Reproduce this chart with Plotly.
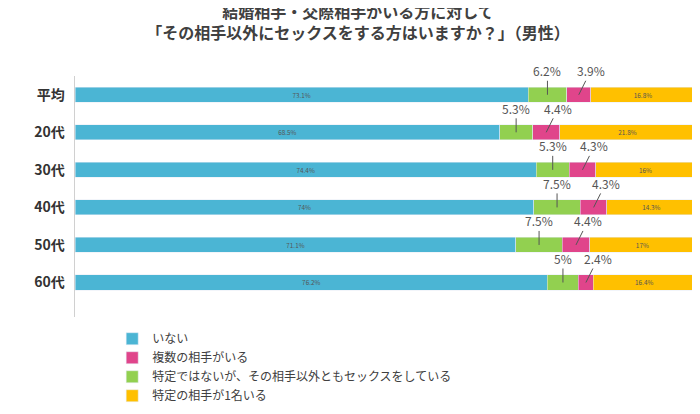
import plotly.graph_objects as go

groups = ['平均', '20代', '30代', '40代', '50代', '60代']
none_ = [73.1, 68.5, 74.4, 74, 71.1, 76.2]
unspec = [6.2, 5.3, 5.3, 7.5, 7.5, 5]
multi = [3.9, 4.4, 4.3, 4.3, 4.4, 2.4]
one = [16.8, 21.8, 16, 14.3, 17, 16.4]

names = ['いない', '特定ではないが、その相手以外ともセックスをしている', '複数の相手がいる', '特定の相手が1名いる']
colors = ['#4BB5D4', '#92D050', '#E0458B', '#FFC000']
ranks = [1, 3, 2, 4]

fig = go.Figure()
for vals, name, col, rk in zip([none_, unspec, multi, one], names, colors, ranks):
    show_text = name in (names[0], names[3])
    fig.add_trace(go.Bar(
        y=groups, x=vals, name=name, orientation='h', marker_color=col,
        legendrank=rk, width=0.4,
        text=[f'{v:g}%' for v in vals] if show_text else None,
        textposition='inside', insidetextanchor='middle',
        textfont=dict(color='#555555', size=12),
        hoverinfo='x+name',
    ))

ann = []
for g, a, b, c in zip(groups, none_, unspec, multi):
    ann.append(dict(x=a + b / 2, y=g, text=f'{b:g}%', showarrow=True, arrowhead=0,
                    arrowcolor='#555555', arrowwidth=1, ax=0, ay=-24,
                    font=dict(size=12, color='#555555')))
    ann.append(dict(x=a + b + c / 2, y=g, text=f'{c:g}%', showarrow=True, arrowhead=0,
                    arrowcolor='#555555', arrowwidth=1, ax=12, ay=-24,
                    font=dict(size=12, color='#555555')))

fig.update_layout(
    width=700, height=414,
    barmode='stack',
    font=dict(family='Noto Sans CJK JP', color='#404040'),
    title=dict(text='結婚相手・交際相手がいる方に対して<br>「その相手以外にセックスをする方はいますか？」（男性）',
               x=0.5, xanchor='center', y=0.975, yanchor='top',
               font=dict(size=16, color='#404040', weight='bold')),
    margin=dict(l=67, r=13, t=68, b=72),
    plot_bgcolor='white', paper_bgcolor='white',
    xaxis=dict(range=[0, 100], visible=False),
    yaxis=dict(autorange='reversed', showline=True, linecolor='#d0d0d0',
               ticks='', tickfont=dict(size=14, color='#333333', weight='bold'),
               ticksuffix='  '),
    annotations=ann,
    bargap=0.6,
    legend=dict(orientation='h', x=0.06, xanchor='left', y=-0.03, yanchor='top',
                entrywidth=390, entrywidthmode='pixels',
                font=dict(size=12, color='#404040'), traceorder='normal'),
    showlegend=True,
)

fig.write_html('out.html')
